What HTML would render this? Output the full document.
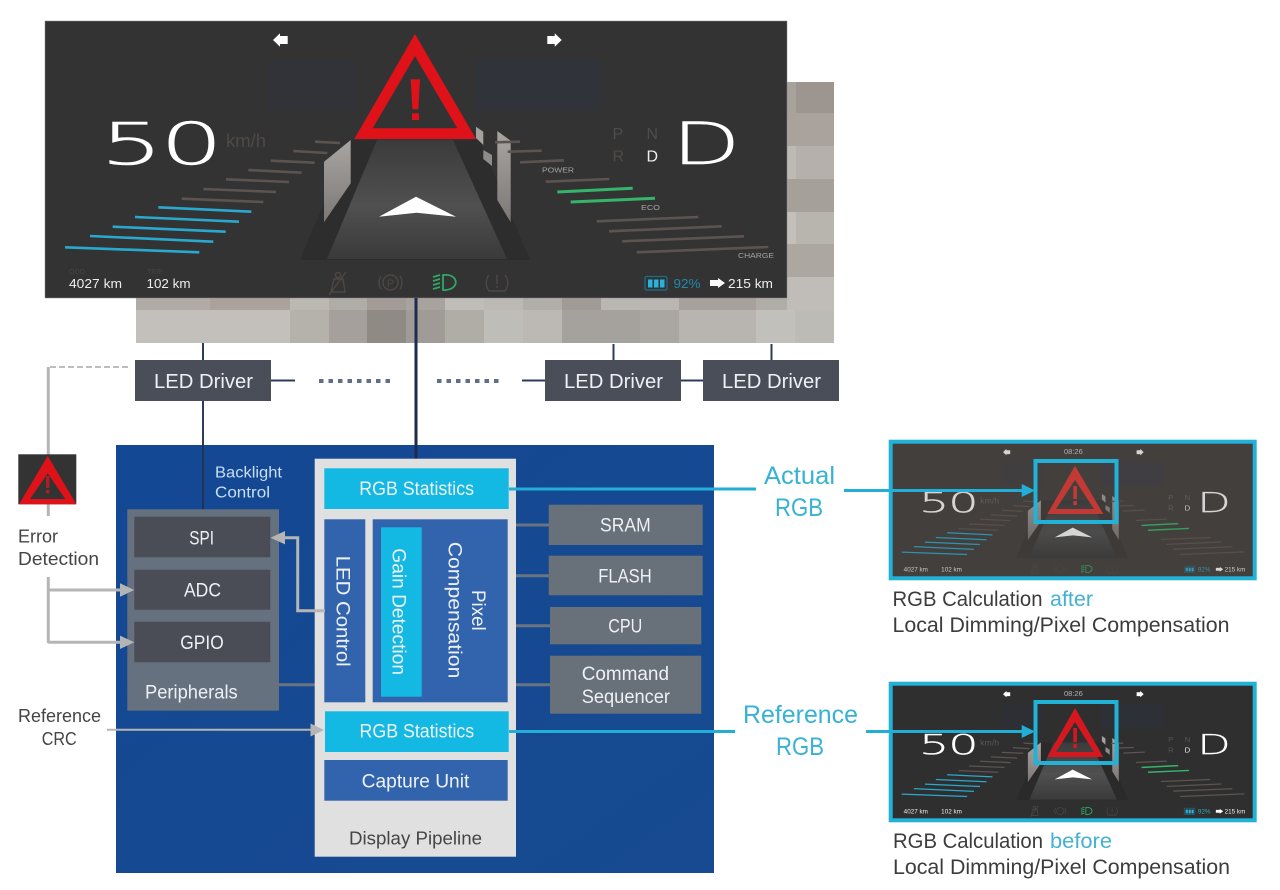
<!DOCTYPE html>
<html><head><meta charset="utf-8"><title>Display pipeline diagram</title>
<style>
html,body{margin:0;padding:0;background:#fff;width:1280px;height:890px;overflow:hidden}
svg{display:block}
text{font-family:"Liberation Sans",sans-serif}
.w{fill:#edf1f5;font-size:19px}
.k{fill:#454545;font-size:20px}
.c{fill:#37b2d4;font-size:25px}
.big{font-family:"DejaVu Sans ExtraLight","DejaVu Sans","Liberation Sans",sans-serif;font-weight:200}
</style></head><body>
<svg width="1280" height="890" viewBox="0 0 1280 890" xmlns="http://www.w3.org/2000/svg">
<defs>
<linearGradient id="road" x1="0" y1="0" x2="0" y2="1"><stop offset="0" stop-color="#3b3b3b"/><stop offset=".55" stop-color="#505050"/><stop offset="1" stop-color="#3a3a3a"/></linearGradient>
<linearGradient id="wall" x1="0" y1="0" x2="0" y2="1"><stop offset="0" stop-color="#a9a5a2"/><stop offset="1" stop-color="#7c7876"/></linearGradient>
<linearGradient id="pan" x1="0" y1="0" x2="1" y2="1"><stop offset="0" stop-color="#134894"/><stop offset="1" stop-color="#174a90"/></linearGradient>
<g id="art">
<rect x="270" y="60" width="85" height="50" fill="#2a3a70" fill-opacity=".09"/>
<rect x="476" y="60" width="125" height="50" fill="#2a3a70" fill-opacity=".12"/>
<polygon points="350,140 480,140 530,260 300,260" fill="#000" fill-opacity=".1"/>
<polygon points="377,140 453,140 507,259 327,259" fill="url(#road)"/>
<polygon points="379,216.7 416,196.7 456,216.7 416.7,212.7" fill="#fff"/>
<polygon points="350.7,140 324,161.7 324,222.3 350.7,183.3" fill="url(#wall)"/>
<polygon points="497.3,131 510.7,140.7 510.7,222.3 497.3,200" fill="url(#wall)"/>
<polygon points="476,126.7 483.3,131.7 483.3,145 476,138" fill="#a5a19e"/>
<polygon points="483.3,150 492,155 492,166 483.3,159" fill="#8f8b88"/>
<g stroke-width="2.6" fill="none">
<g stroke="#29a9cf">
<line x1="65" y1="247.3" x2="199.3" y2="252.3"/><line x1="90" y1="236" x2="213.3" y2="241.7"/><line x1="112.7" y1="226.7" x2="225.7" y2="231.7"/><line x1="135" y1="217" x2="239" y2="221.7"/><line x1="158.3" y1="207.3" x2="251.3" y2="211.7"/>
</g>
<g stroke="#5c5451">
<line x1="181.7" y1="198.7" x2="263.3" y2="202"/><line x1="203.3" y1="189" x2="276" y2="192"/><line x1="226" y1="179.3" x2="289" y2="182"/><line x1="248.3" y1="170" x2="301.7" y2="172.7"/><line x1="270.7" y1="160.7" x2="314.7" y2="162.7"/><line x1="293.3" y1="151" x2="327.3" y2="153"/><line x1="315" y1="141.7" x2="340" y2="143"/>
<line x1="495" y1="142.3" x2="520" y2="141.7"/><line x1="507.7" y1="151.7" x2="541.7" y2="150.7"/><line x1="520" y1="162.3" x2="564" y2="160.3"/><line x1="545.7" y1="181.7" x2="609.3" y2="179"/>
<line x1="596.7" y1="221.3" x2="698.3" y2="217"/><line x1="609" y1="231.3" x2="721.7" y2="226.3"/><line x1="622.3" y1="241.3" x2="744" y2="236.3"/><line x1="636.7" y1="252.3" x2="768.3" y2="247"/>
</g>
<g stroke="#35b56c" stroke-width="3">
<line x1="557.3" y1="192" x2="632.7" y2="188.3"/><line x1="570.7" y1="202" x2="655" y2="198.3"/>
</g>
</g>
<polygon points="273,40 280,33.3 280,36 287.7,36 287.7,44 280,44 280,46.7" fill="#fff"/>
<polygon points="561.7,40 554.7,33.3 554.7,36 547.3,36 547.3,44 554.7,44 554.7,46.7" fill="#fff"/>
<g fill="none" stroke="#4c4846" stroke-width="1.4">
<circle cx="338" cy="275" r="2.6"/><path d="M331 292 L345 292 L343 279 L334 279 Z"/><line x1="329" y1="295" x2="346" y2="272"/>
<circle cx="390.5" cy="282.5" r="7.5"/><path d="M381 276 A12 12 0 0 0 381 289 M400 276 A12 12 0 0 1 400 289"/>
<path d="M489 275 A13 13 0 0 0 489 291 L505 291 A13 13 0 0 0 505 275"/><line x1="497" y1="275" x2="497" y2="284"/><line x1="497" y1="286" x2="497" y2="288"/>
</g>
<g fill="none" stroke="#2fa866" stroke-width="1.8">
<path d="M443 275 C460 273 460 291 443 290 Z"/>
<path d="M433 277 L440 275 M433 281 L440 279 M433 285 L440 283 M433 289 L440 287"/>
</g>
<rect x="645" y="276.5" width="22" height="13.5" rx="1.5" fill="none" stroke="#1b6f88" stroke-width="1.2"/>
<rect x="648" y="279.5" width="4.5" height="8" fill="#29b2dc"/><rect x="654" y="279.5" width="4.5" height="8" fill="#29b2dc"/><rect x="660" y="279.5" width="4.5" height="8" fill="#29b2dc"/>
<polygon points="725,283 718,278 718,280 710,280 710,286 718,286 718,288" fill="#fff"/>
</g>
<g id="nums">
<text class="big" transform="translate(100.3,164) scale(1.7,1)" font-size="58" fill="#fff" stroke="#fff" stroke-width=".6" letter-spacing="-1.6">50</text>
<text class="big" transform="translate(672,164) scale(1.53,1)" font-size="58" fill="#fff" stroke="#fff" stroke-width=".6">D</text>
</g>
</defs>

<!-- backlight tiles -->
<g shape-rendering="crispEdges">
<rect x="136" y="82" width="698" height="261" fill="#b5b1ab"/>
<g fill="#a8a29c"><rect x="787" y="82" width="9" height="31"/></g>
<rect x="796" y="82" width="38" height="31" fill="#9d9590"/>
<rect x="787" y="113" width="47" height="33" fill="#aaa39d"/>
<rect x="787" y="146" width="9" height="33" fill="#bdb9b3"/><rect x="796" y="146" width="38" height="33" fill="#b5b0ab"/>
<rect x="787" y="179" width="47" height="33" fill="#a5a09a"/>
<rect x="787" y="212" width="9" height="32" fill="#c3c0bb"/><rect x="796" y="212" width="38" height="32" fill="#b8b4ae"/>
<rect x="787" y="244" width="47" height="33" fill="#aca7a0"/>
<rect x="787" y="277" width="47" height="33" fill="#c0bdb8"/>
<!-- row 1 -->
<rect x="136" y="298" width="74" height="12" fill="#b0aba5"/><rect x="210" y="298" width="80" height="12" fill="#aba39b"/><rect x="290" y="298" width="39" height="12" fill="#bcb9b3"/><rect x="329" y="298" width="38" height="12" fill="#b0aca6"/><rect x="367" y="298" width="39" height="12" fill="#a39c96"/><rect x="406" y="298" width="39" height="12" fill="#a8a39e"/><rect x="445" y="298" width="39" height="12" fill="#c0bdb8"/><rect x="484" y="298" width="39" height="12" fill="#bcb9b4"/><rect x="523" y="298" width="39" height="12" fill="#b1aea9"/><rect x="562" y="298" width="39" height="12" fill="#a09b95"/><rect x="601" y="298" width="78" height="12" fill="#bab7b2"/><rect x="679" y="298" width="77" height="12" fill="#a7a19b"/><rect x="756" y="298" width="31" height="12" fill="#b0aca6"/>
<!-- row 2 -->
<rect x="136" y="310" width="154" height="33" fill="#c3c0bb"/><rect x="290" y="310" width="39" height="33" fill="#b5b1ab"/><rect x="329" y="310" width="38" height="33" fill="#a5a09b"/><rect x="367" y="310" width="39" height="33" fill="#908a85"/><rect x="406" y="310" width="39" height="33" fill="#a09b96"/><rect x="445" y="310" width="39" height="33" fill="#b0aca6"/><rect x="484" y="310" width="39" height="33" fill="#bfbdb8"/><rect x="523" y="310" width="39" height="33" fill="#bcb9b4"/><rect x="562" y="310" width="78" height="33" fill="#a5a19c"/><rect x="640" y="310" width="39" height="33" fill="#aaa6a1"/><rect x="679" y="310" width="77" height="33" fill="#b8b5b0"/><rect x="756" y="310" width="39" height="33" fill="#c2c0bb"/><rect x="795" y="310" width="39" height="33" fill="#bdbbb6"/>
</g>

<!-- main dashboard -->
<rect x="45" y="21" width="742" height="277" fill="#333333" stroke="#888" stroke-width=".5"/>
<use href="#art"/>
<use href="#nums"/>
<path fill-rule="evenodd" d="M415 34 L476 139 L354.3 139 Z M415 56 L372.7 128.3 L457.3 128.3 Z" fill="#e01219"/>
<polygon points="410.7,79.3 420,79.3 418.3,109.3 412.4,109.3" fill="#e01219"/><rect x="412" y="113.3" width="7" height="6.7" fill="#e01219"/>
<text x="226" y="147" font-size="18" fill="#4f4947" textLength="40" lengthAdjust="spacingAndGlyphs">km/h</text>
<text x="390.5" y="287" font-size="11" fill="#4c4846" text-anchor="middle">P</text>
<g font-size="16" fill="#4f4b49"><text x="612.5" y="139">P</text><text x="646.5" y="139">N</text><text x="612.5" y="161.5">R</text><text x="646.5" y="161.5" fill="#eee">D</text></g>
<g font-size="7.5" fill="#a8a4a2"><text x="542" y="172.5" textLength="32" lengthAdjust="spacingAndGlyphs">POWER</text><text x="641" y="210" textLength="19" lengthAdjust="spacingAndGlyphs">ECO</text><text x="738" y="258" textLength="36" lengthAdjust="spacingAndGlyphs">CHARGE</text></g>
<g font-size="13" fill="#eee"><text x="69" y="288" textLength="53" lengthAdjust="spacingAndGlyphs">4027 km</text><text x="146.5" y="288" textLength="44" lengthAdjust="spacingAndGlyphs">102 km</text><text x="728" y="288" textLength="45" lengthAdjust="spacingAndGlyphs">215 km</text><text x="673.5" y="288" fill="#1f8aac" textLength="27" lengthAdjust="spacingAndGlyphs">92%</text></g>
<g font-size="7" fill="#444"><text x="69" y="274">ODO</text><text x="147" y="274">TRIP</text></g>

<!-- LED drivers row -->
<g stroke="#2c3d5c" stroke-width="2" fill="none">
<line x1="203" y1="343" x2="203" y2="360"/><line x1="613.5" y1="344" x2="613.5" y2="360"/><line x1="771.5" y1="344" x2="771.5" y2="360"/>
<line x1="203" y1="401" x2="203" y2="510"/>
<line x1="271" y1="380.5" x2="295" y2="380.5"/><line x1="522" y1="380.5" x2="545" y2="380.5"/><line x1="681" y1="380.5" x2="703" y2="380.5"/>
</g>
<line x1="319" y1="381" x2="393" y2="381" stroke="#5f6f86" stroke-width="4" stroke-dasharray="4.5 5"/>
<line x1="437" y1="381" x2="500" y2="381" stroke="#5f6f86" stroke-width="4" stroke-dasharray="4.5 5"/>
<g fill="#4a4e58"><rect x="135" y="360" width="136" height="41"/><rect x="545" y="360" width="136" height="41"/><rect x="703" y="360" width="136" height="41"/></g>
<g class="w" font-size="20" style="font-size:20px"><text x="154" y="388" textLength="99" lengthAdjust="spacingAndGlyphs">LED Driver</text><text x="564" y="388" textLength="99" lengthAdjust="spacingAndGlyphs">LED Driver</text><text x="722" y="388" textLength="99" lengthAdjust="spacingAndGlyphs">LED Driver</text></g>

<!-- blue panel -->
<rect x="116" y="445" width="598" height="428" fill="url(#pan)"/>
<line x1="203" y1="445" x2="203" y2="510" stroke="#25324f" stroke-width="2"/>
<line x1="416" y1="298" x2="416" y2="459" stroke="#1d2c4c" stroke-width="3"/>
<text x="215" y="477.5" font-size="16" fill="#c9dff2" textLength="67" lengthAdjust="spacingAndGlyphs">Backlight</text>
<text x="215" y="497.5" font-size="16" fill="#c9dff2" textLength="55" lengthAdjust="spacingAndGlyphs">Control</text>

<!-- connectors under panels -->
<g stroke="#6a7480" stroke-width="3"><line x1="516" y1="525" x2="549" y2="525"/><line x1="516" y1="575.7" x2="549" y2="575.7"/><line x1="516" y1="625.7" x2="550" y2="625.7"/><line x1="516" y1="684.7" x2="550" y2="684.7"/><line x1="279" y1="684.7" x2="315" y2="684.7"/></g>

<!-- peripherals -->
<rect x="127.3" y="509.3" width="151.7" height="201.4" fill="#66717f"/>
<g fill="#4a4d56"><rect x="134.3" y="516.7" width="136" height="40.6"/><rect x="134.3" y="569.7" width="136" height="40"/><rect x="134.3" y="621.7" width="136" height="40.6"/></g>
<text class="w" x="189.3" y="544.3" textLength="24.7" lengthAdjust="spacingAndGlyphs">SPI</text>
<text class="w" x="184" y="596.7" textLength="37" lengthAdjust="spacingAndGlyphs">ADC</text>
<text class="w" x="180.3" y="649" textLength="43.4" lengthAdjust="spacingAndGlyphs">GPIO</text>
<text class="w" x="145" y="698.3" textLength="92.7" lengthAdjust="spacingAndGlyphs">Peripherals</text>

<!-- pipeline -->
<rect x="314.7" y="458.7" width="201.3" height="398" fill="#e0e0e0"/>
<g fill="#14b9e3"><rect x="324.3" y="468.3" width="184.4" height="40.7"/><rect x="325" y="711.3" width="183.7" height="40.7"/></g>
<g fill="#3263ad"><rect x="324.3" y="519.3" width="41" height="183"/><rect x="372.7" y="519.3" width="135" height="183"/><rect x="324.3" y="760" width="183.4" height="40.7"/></g>
<rect x="381" y="527.3" width="40.7" height="169.4" fill="#14b9e3"/>
<text class="w" x="359.3" y="495" textLength="114.7" lengthAdjust="spacingAndGlyphs">RGB Statistics</text>
<text class="w" x="359.5" y="737.7" textLength="114.7" lengthAdjust="spacingAndGlyphs">RGB Statistics</text>
<text class="w" x="361.7" y="787.3" textLength="107.6" lengthAdjust="spacingAndGlyphs">Capture Unit</text>
<text x="349" y="844.3" font-size="18.5" fill="#454545" textLength="133" lengthAdjust="spacingAndGlyphs">Display Pipeline</text>
<text class="w" transform="translate(336.5,555.7) rotate(90)" textLength="111" lengthAdjust="spacingAndGlyphs">LED Control</text>
<text class="w" transform="translate(392.5,548.3) rotate(90)" textLength="126.7" lengthAdjust="spacingAndGlyphs">Gain Detection</text>
<text class="w" transform="translate(472,590) rotate(90)" textLength="40.7" lengthAdjust="spacingAndGlyphs">Pixel</text>
<text class="w" transform="translate(448.7,541.7) rotate(90)" textLength="136.7" lengthAdjust="spacingAndGlyphs">Compensation</text>

<!-- memory blocks -->
<g fill="#687079"><rect x="548.7" y="504.7" width="154" height="40.3"/><rect x="548.7" y="555.7" width="154" height="39.6"/><rect x="550" y="607" width="151.3" height="37.3"/><rect x="550" y="655.7" width="151.3" height="58"/></g>
<text class="w" x="600" y="531.7" textLength="50.7" lengthAdjust="spacingAndGlyphs">SRAM</text>
<text class="w" x="598.3" y="582.7" textLength="53.4" lengthAdjust="spacingAndGlyphs">FLASH</text>
<text class="w" x="608.3" y="632.7" textLength="34" lengthAdjust="spacingAndGlyphs">CPU</text>
<text class="w" x="581.7" y="680" textLength="87.3" lengthAdjust="spacingAndGlyphs">Command</text>
<text class="w" x="581.7" y="703" textLength="88.3" lengthAdjust="spacingAndGlyphs">Sequencer</text>

<!-- left gray connectors -->
<g fill="none" stroke="#b5b5b5" stroke-width="3">
<line x1="48.3" y1="367" x2="48.3" y2="516"/>
<path d="M48.3 577 V643"/><path d="M48.3 590 H122"/><path d="M48.3 642.3 H122"/>
<path d="M284 537.7 H297.7 V610.7 H325"/>
</g>
<line x1="50" y1="367" x2="130" y2="367" stroke="#bdbdbd" stroke-width="2" stroke-dasharray="6 3"/>
<line x1="107" y1="729.7" x2="312" y2="729.7" stroke="#b5b5b5" stroke-width="2"/>
<g fill="#b5b5b5"><polygon points="134.3,590 120,583.3 120,596.7"/><polygon points="134.3,642.3 120,635.6 120,649"/><polygon points="270.5,537.7 285,531 285,544.4"/><polygon points="324,730 310.5,723.5 310.5,736.5"/></g>

<!-- warning icon -->
<rect x="18.3" y="454.3" width="58" height="50" fill="#333"/>
<path fill-rule="evenodd" d="M47.7 456 L76.3 504.3 L19 504.3 Z M47.7 473.3 L30 499 L65.3 499 Z" fill="#e01219"/>
<rect x="46" y="476" width="3.4" height="12" fill="#a92024"/><rect x="46" y="490" width="3.4" height="3.4" fill="#a92024"/>
<text x="18" y="542.3" font-size="18.5" fill="#454545" textLength="40" lengthAdjust="spacingAndGlyphs">Error</text>
<text x="18" y="565" font-size="18.5" fill="#454545" textLength="81" lengthAdjust="spacingAndGlyphs">Detection</text>
<text x="18" y="722" font-size="18.5" fill="#454545" textLength="83" lengthAdjust="spacingAndGlyphs">Reference</text>
<text x="41.7" y="745" font-size="18.5" fill="#454545" textLength="35" lengthAdjust="spacingAndGlyphs">CRC</text>

<!-- thumbnail 1 -->
<rect x="890" y="441" width="365" height="138" fill="#433f3d"/>
<g transform="translate(892,443) scale(.487,.482) translate(-45,-21)" opacity=".78">
<use href="#art"/><use href="#nums"/>
<text x="69" y="288" font-size="13" fill="#eee">4027 km</text><text x="146" y="288" font-size="13" fill="#eee">102 km</text><text x="728" y="288" font-size="13" fill="#eee">215 km</text><text x="673" y="288" font-size="13" fill="#3ab">92%</text>
<text x="226" y="147" font-size="18" fill="#6a6360">km/h</text>
<text x="612" y="139" font-size="16" fill="#6a6360">P</text><text x="646" y="139" font-size="16" fill="#6a6360">N</text><text x="612" y="161" font-size="16" fill="#6a6360">R</text><text x="646" y="161" font-size="16" fill="#eee">D</text>
</g>
<text x="1064" y="454" font-size="7.5" fill="#b5b0ae">08:26</text>
<path fill-rule="evenodd" d="M1075 465.7 L1103.3 514 L1047.3 514 Z M1075 480 L1056 509 L1094 509 Z" fill="#c23a35"/>
<rect x="1073.3" y="486" width="3.6" height="13" fill="#c23a35"/><rect x="1073.3" y="501" width="3.6" height="4" fill="#c23a35"/>
<rect x="890.7" y="441.7" width="364" height="136.6" fill="none" stroke="#22b2d8" stroke-width="4"/>
<rect x="1035.5" y="461" width="81" height="61" fill="none" stroke="#22b2d8" stroke-width="4"/>
<text x="892.5" y="606" font-size="21" fill="#3c3c3c" textLength="150" lengthAdjust="spacingAndGlyphs">RGB Calculation</text>
<text x="1050" y="606" font-size="21" fill="#44b1d1" textLength="43" lengthAdjust="spacingAndGlyphs">after</text>
<text x="892.5" y="632" font-size="21" fill="#3c3c3c" textLength="337" lengthAdjust="spacingAndGlyphs">Local Dimming/Pixel Compensation</text>

<!-- thumbnail 2 -->
<rect x="890" y="683" width="365" height="138" fill="#2f2f2f"/>
<g transform="translate(892,685) scale(.487,.482) translate(-45,-21)">
<use href="#art"/><use href="#nums"/>
<text x="69" y="288" font-size="13" fill="#eee">4027 km</text><text x="146" y="288" font-size="13" fill="#eee">102 km</text><text x="728" y="288" font-size="13" fill="#eee">215 km</text><text x="673" y="288" font-size="13" fill="#3ab">92%</text>
<text x="226" y="147" font-size="18" fill="#5a5451">km/h</text>
<text x="612" y="139" font-size="16" fill="#5a5451">P</text><text x="646" y="139" font-size="16" fill="#5a5451">N</text><text x="612" y="161" font-size="16" fill="#5a5451">R</text><text x="646" y="161" font-size="16" fill="#eee">D</text>
</g>
<text x="1064" y="696" font-size="7.5" fill="#b5b0ae">08:26</text>
<path fill-rule="evenodd" d="M1075 708 L1103.3 757 L1047.3 757 Z M1075 722 L1056 752 L1094 752 Z" fill="#d5181f"/>
<rect x="1073.3" y="728" width="3.6" height="14" fill="#d5181f"/><rect x="1073.3" y="744" width="3.6" height="4" fill="#d5181f"/>
<rect x="890.7" y="683.7" width="364" height="136.6" fill="none" stroke="#22b2d8" stroke-width="4"/>
<rect x="1035.5" y="702" width="81" height="61" fill="none" stroke="#22b2d8" stroke-width="4"/>
<text x="893" y="848" font-size="21" fill="#3c3c3c" textLength="150" lengthAdjust="spacingAndGlyphs">RGB Calculation</text>
<text x="1050" y="848" font-size="21" fill="#44b1d1" textLength="62" lengthAdjust="spacingAndGlyphs">before</text>
<text x="893" y="874" font-size="21" fill="#3c3c3c" textLength="337" lengthAdjust="spacingAndGlyphs">Local Dimming/Pixel Compensation</text>

<!-- cyan connectors -->
<g stroke="#22aed6" stroke-width="3">
<line x1="509" y1="489" x2="756" y2="489"/><line x1="844" y1="490.5" x2="1024" y2="490.5"/>
<line x1="509" y1="731.5" x2="735" y2="731.5"/><line x1="866" y1="731.5" x2="1024" y2="731.5"/>
</g>
<g fill="#22aed6"><polygon points="1035,490.5 1021.7,484 1021.7,497"/><polygon points="1035,731.5 1021.7,725 1021.7,738"/></g>
<text class="c" x="764" y="484" textLength="71" lengthAdjust="spacingAndGlyphs">Actual</text>
<text class="c" x="775" y="516" textLength="48" lengthAdjust="spacingAndGlyphs">RGB</text>
<text class="c" x="743" y="723" textLength="115" lengthAdjust="spacingAndGlyphs">Reference</text>
<text class="c" x="776" y="755" textLength="48" lengthAdjust="spacingAndGlyphs">RGB</text>
</svg>
</body></html>
